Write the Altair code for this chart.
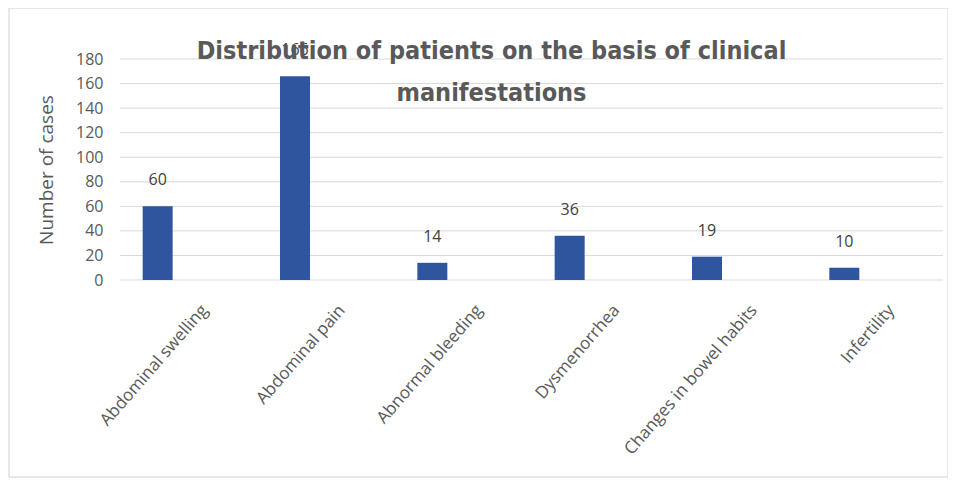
import altair as alt
import pandas as pd

categories = ["Abdominal swelling", "Abdominal pain", "Abnormal bleeding",
              "Dysmenorrhea", "Changes in bowel habits", "Infertility"]
cases = [60, 166, 14, 36, 19, 10]
y_ticks = [0, 20, 40, 60, 80, 100, 120, 140, 160, 180]

df = pd.DataFrame({"category": categories, "cases": cases})
grid_df = pd.DataFrame({"tick": y_ticks})

x_enc = alt.X("category:N", sort=categories, title=None,
              scale=alt.Scale(range=[-31, 793], paddingInner=0, paddingOuter=0),
              axis=alt.Axis(labelAngle=-49, labelAlign="right", labelBaseline="middle",
                            labelFont="Open Sans", labelFontSize=17, labelColor="#595959",
                            ticks=False, domain=False, labelPadding=27, labelOffset=47,
                            labelLimit=300))
y_scale = alt.Scale(domain=[0, 180])
y_axis = alt.Axis(values=y_ticks, ticks=False, domain=False, labelOverlap=False,
                  grid=False,
                  labelFont="Open Sans", labelFontSize=16, labelColor="#595959",
                  labelPadding=17, titleFont="Open Sans", titleFontSize=19,
                  titleColor="#595959", titleFontWeight="normal", titlePadding=19)

grid = alt.Chart(grid_df).mark_rule(color="#d9d9d9", strokeWidth=1).encode(
    y=alt.Y("tick:Q", scale=y_scale, axis=y_axis, title="Number of cases"),
    x=alt.value(0), x2=alt.value(823))

base = alt.Chart(df).encode(
    x=x_enc,
    y=alt.Y("cases:Q", scale=y_scale, axis=y_axis, title="Number of cases"))

bars = base.mark_bar(color="#2f559f", size=30)

labels = base.mark_text(font="Open Sans", fontSize=16, color="#404040", dy=-26,
                        baseline="middle").encode(text="cases:Q")

border = alt.Chart(pd.DataFrame({"a": [0]})).mark_rect(
    fill=None, stroke="#d0d0d0", strokeWidth=1, clip=False).encode(
    x=alt.value(-111), x2=alt.value(828), y=alt.value(-51), y2=alt.value(418))

chart = alt.layer(border, grid, bars, labels).properties(
    width=823, height=221,
    autosize=alt.AutoSizeParams(type="none"),
    padding={"left": 112, "top": 51, "right": 5, "bottom": 198},
    title=alt.TitleParams(
        ["Distribution of patients on the basis of clinical", "manifestations"],
        font="DejaVu Sans Condensed", fontSize=25, fontWeight="bold",
        color="#595959", anchor="middle", dx=-40, dy=102, lineHeight=42),
).configure_view(stroke=None)

chart.save("out.html", embed_options={"renderer": "svg", "actions": False})
